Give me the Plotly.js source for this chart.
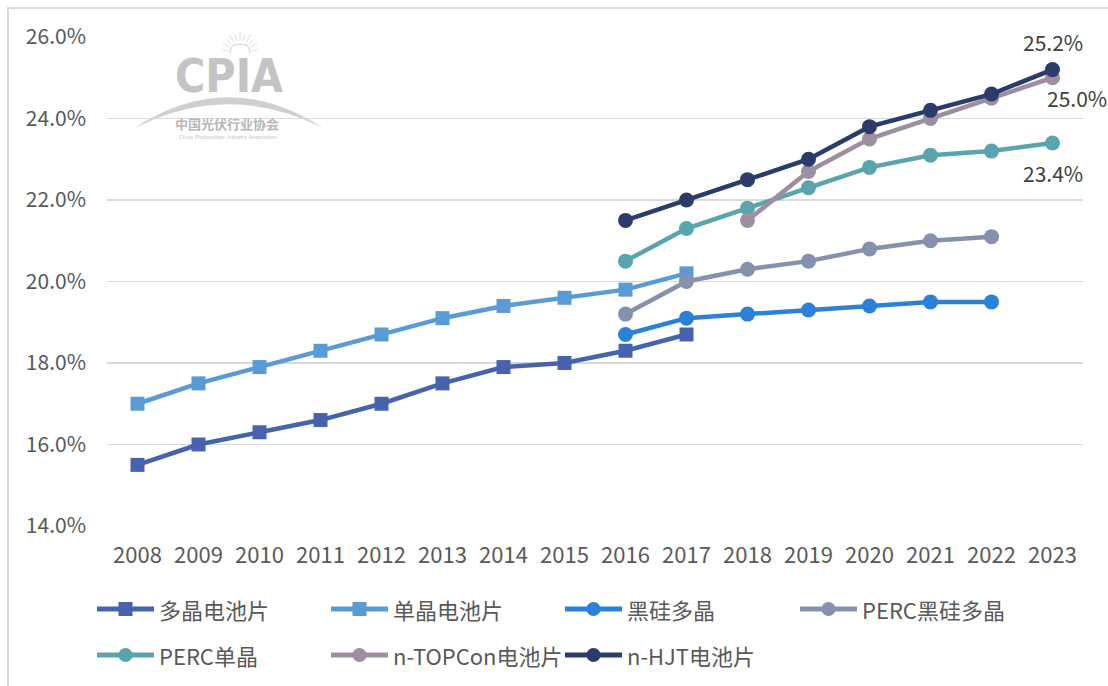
<!DOCTYPE html>
<html>
<head>
<meta charset="utf-8">
<script src="https://cdn.plot.ly/plotly-3.0.1.min.js"></script>
<style>
  html, body { margin: 0; padding: 0; background: #fff; }
  #wrap { position: relative; width: 1108px; height: 686px; overflow: hidden; }
  #chart { position: absolute; left: 0; top: 0; width: 1108px; height: 686px; }
  /* thin frame, only top and left edge visible in the crop */
  #frame { position: absolute; left: 7px; top: 7px; width: 1200px; height: 800px;
           border-top: 2px solid #d9d9d9; border-left: 2px solid #d9d9d9; pointer-events: none; }
</style>
</head>
<body>
<div id="wrap">
  <div id="chart"></div>
  <div id="frame"></div>
</div>
<script>
(function () {
  'use strict';

  /* ---------- data ---------- */
  const years = ['2008', '2009', '2010', '2011', '2012', '2013', '2014', '2015',
                 '2016', '2017', '2018', '2019', '2020', '2021', '2022', '2023'];

  const multiCell   = [15.5, 16.0, 16.3, 16.6, 17.0, 17.5, 17.9, 18.0, 18.3, 18.7, null, null, null, null, null, null];
  const monoCell    = [17.0, 17.5, 17.9, 18.3, 18.7, 19.1, 19.4, 19.6, 19.8, 20.2, null, null, null, null, null, null];
  const blackSi     = [null, null, null, null, null, null, null, null, 18.7, 19.1, 19.2, 19.3, 19.4, 19.5, 19.5, null];
  const percBlackSi = [null, null, null, null, null, null, null, null, 19.2, 20.0, 20.3, 20.5, 20.8, 21.0, 21.1, null];
  const percMono    = [null, null, null, null, null, null, null, null, 20.5, 21.3, 21.8, 22.3, 22.8, 23.1, 23.2, 23.4];
  const topcon      = [null, null, null, null, null, null, null, null, null, null, 21.5, 22.7, 23.5, 24.0, 24.5, 25.0];
  const hjt         = [null, null, null, null, null, null, null, null, 21.5, 22.0, 22.5, 23.0, 23.8, 24.2, 24.6, 25.2];

  const names   = ['多晶电池片', '单晶电池片', '黑硅多晶', 'PERC黑硅多晶', 'PERC单晶', 'n-TOPCon电池片', 'n-HJT电池片'];
  const colors  = ['#4863ad', '#5b9bd5', '#2b80d8', '#8492ad', '#59a4ad', '#9d8fa1', '#2c3c6a'];
  const symbols = ['square', 'square', 'circle', 'circle', 'circle', 'circle', 'circle'];
  const values  = [multiCell, monoCell, blackSi, percBlackSi, percMono, topcon, hjt];

  const yTicks = [14, 16, 18, 20, 22, 24, 26];

  /* end-point labels: series index, year */
  const endLabels = [
    { s: 6, year: '2023', dx: 0,  dy: 28 },
    { s: 5, year: '2023', dx: 24, dy: -20 },
    { s: 4, year: '2023', dx: 0,  dy: -30 }
  ];

  /* ---------- geometry helpers (pixel -> paper) ---------- */
  const W = 1108, Hh = 686;
  const M = { l: 107, r: 25, t: 37, b: 160 };
  const PW = W - M.l - M.r, PH = Hh - M.t - M.b;
  const px = x => (x - M.l) / PW;
  const py = y => (Hh - M.b - y) / PH;

  const FONT = '"Noto Sans CJK SC", "Noto Sans", sans-serif';
  const TXT = '#595959';

  /* ---------- traces ---------- */
  const traces = values.map((v, i) => ({
    x: years, y: v,
    type: 'scatter', mode: 'lines+markers',
    name: names[i],
    line: { color: colors[i], width: 4.5 },
    marker: { color: colors[i], symbol: symbols[i], size: symbols[i] === 'square' ? 14 : 15 },
    connectgaps: false,
    hoverinfo: 'x+y+name',
    showlegend: false
  }));

  /* ---------- data labels ---------- */
  const annotations = endLabels.map(d => {
    const idx = years.indexOf(d.year);
    return {
      x: idx, y: values[d.s][idx], xref: 'x', yref: 'y',
      xanchor: 'center', yanchor: 'middle',
      text: values[d.s][idx].toFixed(1) + '%',
      showarrow: false, xshift: d.dx, yshift: d.dy,
      font: { family: FONT, size: 21, color: '#404040' }
    };
  });

  /* ---------- custom legend (long line + marker) ---------- */
  const shapes = [];
  const legCols = [97, 331, 565, 800];
  const legRows = [609, 655];
  names.forEach((n, i) => {
    const row = i < 4 ? 0 : 1;
    const col = i < 4 ? i : i - 4;
    const x0 = legCols[col], yy = legRows[row];
    shapes.push({
      type: 'line', xref: 'paper', yref: 'paper',
      x0: px(x0), x1: px(x0 + 57), y0: py(yy), y1: py(yy),
      line: { color: colors[i], width: 5, cap: 'round' }
    });
    const cx = x0 + 28.5, r = 7;
    shapes.push({
      type: symbols[i] === 'square' ? 'rect' : 'circle',
      xref: 'paper', yref: 'paper',
      x0: px(cx - r), x1: px(cx + r), y0: py(yy + r), y1: py(yy - r),
      fillcolor: colors[i], line: { width: 0 }
    });
    annotations.push({
      xref: 'paper', yref: 'paper', x: px(x0 + 60), y: py(yy),
      xanchor: 'left', yanchor: 'middle', showarrow: false,
      text: n, font: { family: FONT, size: 22, color: TXT }
    });
  });

  /* ---------- CPIA watermark ---------- */
  const LOGO = '#c4c4c4';
  const pt = (x, y) => px(x).toFixed(5) + ',' + py(y).toFixed(5);
  shapes.push({
    type: 'path', xref: 'paper', yref: 'paper', layer: 'below',
    path: 'M' + pt(133, 129) + ' Q' + pt(228, 66) + ' ' + pt(323, 128) +
          ' Q' + pt(228, 80) + ' ' + pt(133, 129) + ' Z',
    fillcolor: '#cfcfcf', line: { width: 0 }
  });
  /* small sun above the I */
  shapes.push({
    type: 'path', xref: 'paper', yref: 'paper', layer: 'below',
    path: 'M' + pt(230, 53) + ' Q' + pt(230, 44) + ' ' + pt(240, 44) +
          ' Q' + pt(250, 44) + ' ' + pt(250, 53),
    line: { color: '#d2d2d2', width: 1.2 }
  });
  [[-60, 8], [-30, 9], [0, 10], [30, 9], [60, 8], [-80, 6], [80, 6], [-45, 7], [45, 7], [-15, 7], [15, 7]].forEach(a => {
    const ang = a[0] * Math.PI / 180;
    const r0 = 12, r1 = 12 + a[1];
    shapes.push({
      type: 'line', xref: 'paper', yref: 'paper', layer: 'below',
      x0: px(240 + r0 * Math.sin(ang)), y0: py(53 - r0 * Math.cos(ang)),
      x1: px(240 + r1 * Math.sin(ang)), y1: py(53 - r1 * Math.cos(ang)),
      line: { color: '#d6d6d6', width: 0.8 }
    });
  });
  annotations.push(
    { xref: 'paper', yref: 'paper', x: px(229), y: py(76), xanchor: 'center', yanchor: 'middle', showarrow: false,
      text: '<b>CPIA</b>', font: { family: '"DejaVu Sans Condensed", "Liberation Sans", sans-serif', size: 46, color: LOGO } },
    { xref: 'paper', yref: 'paper', x: px(227), y: py(124), xanchor: 'center', yanchor: 'middle', showarrow: false,
      text: '<b>中国光伏行业协会</b>', font: { family: FONT, size: 13, color: '#b8b8b8' } },
    { xref: 'paper', yref: 'paper', x: px(228), y: py(138), xanchor: 'center', yanchor: 'middle', showarrow: false,
      text: 'China Photovoltaic Industry Association', font: { family: '"DejaVu Sans Condensed", sans-serif', size: 5.5, color: '#c4c4c4' } }
  );

  /* ---------- layout ---------- */
  const layout = {
    width: W, height: Hh,
    paper_bgcolor: '#ffffff', plot_bgcolor: '#ffffff',
    margin: M,
    font: { family: FONT, color: TXT },
    showlegend: false,
    xaxis: {
      type: 'category', range: [-0.5, years.length - 0.5],
      showgrid: false, zeroline: false, showline: false, ticks: '',
      ticklabelstandoff: 14,
      tickfont: { family: FONT, size: 22, color: TXT }
    },
    yaxis: {
      range: [14, 26], tickvals: yTicks,
      ticktext: yTicks.map(v => v.toFixed(1) + '%'),
      showgrid: true, gridcolor: '#d9d9d9', gridwidth: 1.5,
      zeroline: false, showline: false, ticks: '',
      ticklabelstandoff: 20,
      tickfont: { family: FONT, size: 21, color: TXT }
    },
    shapes: shapes,
    annotations: annotations
  };

  Plotly.newPlot('chart', traces, layout, { displayModeBar: false, staticPlot: true });
})();
</script>
</body>
</html>
